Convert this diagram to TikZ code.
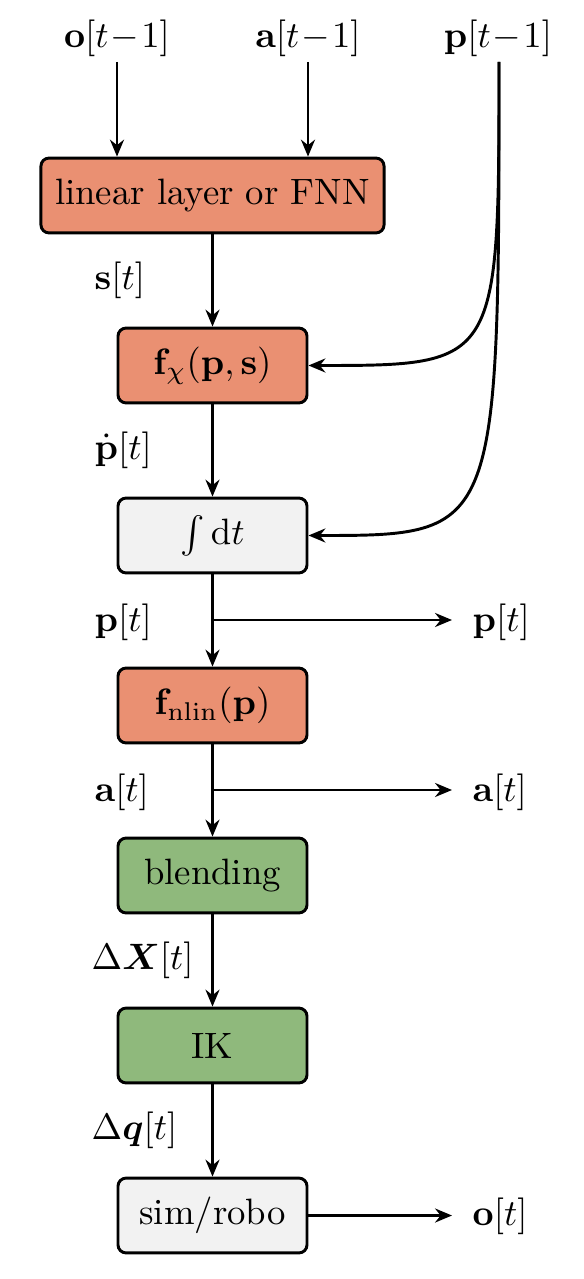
\documentclass[tikz,border=0pt]{standalone}
\usepackage{amsmath,amssymb,bm}
\usetikzlibrary{arrows.meta}
\definecolor{boxorange}{RGB}{234,144,114}
\definecolor{boxgreen}{RGB}{143,185,124}
\definecolor{boxgray}{RGB}{242,242,242}
\begin{document}
\begin{tikzpicture}[x=0.2725pt,y=-0.2725pt,
  blk/.style={draw=black, line width=0.8pt, rounded corners=2.2pt, minimum height=20.4pt, minimum width=51.5pt, inner sep=0pt},
  orng/.style={blk, fill=boxorange},
  grn/.style={blk, fill=boxgreen},
  gry/.style={blk, fill=boxgray},
  lbl/.style={inner sep=0pt},
  conn/.style={line width=0.8pt, -{Stealth[length=4.6pt,width=3.8pt]}}
]
\useasboundingbox (0,0) rectangle (583,1279);
% top inputs
\node[lbl] (oin) at (117,38) {$\mathbf{o}[t\!-\!1]$};
\node[lbl] (ain) at (308,38) {$\mathbf{a}[t\!-\!1]$};
\node[lbl] (pin) at (498,38) {$\mathbf{p}[t\!-\!1]$};
\coordinate (oinb) at (117,62);
\coordinate (ainb) at (308,62);
\coordinate (pinb) at (499,62);
% blocks
\node[orng, minimum width=93.5pt] (lin) at (212.5,195.5) {linear layer or FNN};
\node[orng] (fchi) at (212.5,365.5) {$\mathbf{f}_\chi(\mathbf{p},\mathbf{s})$};
\node[gry] (integ) at (212.5,535.5) {$\int\mathrm{d}t$};
\node[orng] (fnlin) at (212.5,705.5) {$\mathbf{f}_{\mathrm{nlin}}(\mathbf{p})$};
\node[grn] (blend) at (212.5,875.5) {blending};
\node[grn] (ik) at (212.5,1045.5) {IK};
\node[gry] (sim) at (212.5,1215.5) {sim/robo};
% left labels
\node[lbl, anchor=west] (ls) at (94,280) {$\mathbf{s}[t]$};
\node[lbl, anchor=west] (lpd) at (94,450) {$\dot{\mathbf{p}}[t]$};
\node[lbl, anchor=west] (lp) at (94,622) {$\mathbf{p}[t]$};
\node[lbl, anchor=west] (la) at (94,792) {$\mathbf{a}[t]$};
\node[lbl, anchor=west] (lx) at (91,960) {$\Delta\boldsymbol{X}[t]$};
\node[lbl, anchor=west] (lq) at (91,1130) {$\Delta\boldsymbol{q}[t]$};
% right outputs
\node[lbl, anchor=west] (pout) at (472,622) {$\mathbf{p}[t]$};
\node[lbl, anchor=west] (aout) at (472,792) {$\mathbf{a}[t]$};
\node[lbl, anchor=west] (oout) at (472,1216) {$\mathbf{o}[t]$};
\coordinate (pbr) at (212.5,620);
\coordinate (abr) at (212.5,790);
\coordinate (pend) at (452,620);
\coordinate (aend) at (452,790);
\coordinate (oend) at (452,1215.5);
% connectors
\draw[conn] (oinb) -- (oinb |- lin.north);
\draw[conn] (ainb) -- (ainb |- lin.north);
\draw[conn] (lin) -- (fchi);
\draw[conn] (fchi) -- (integ);
\draw[conn] (integ) -- (fnlin);
\draw[conn] (fnlin) -- (blend);
\draw[conn] (blend) -- (ik);
\draw[conn] (ik) -- (sim);
\draw[conn] (pbr) -- (pend);
\draw[conn] (abr) -- (aend);
\draw[conn] (sim.east) -- (oend);
\draw[conn] (pinb) .. controls (pinb |- fchi.east) and (pinb |- fchi.east) .. (fchi.east);
\draw[conn] (pinb) .. controls (pinb |- integ.east) and (pinb |- integ.east) .. (integ.east);
\end{tikzpicture}
\end{document}
